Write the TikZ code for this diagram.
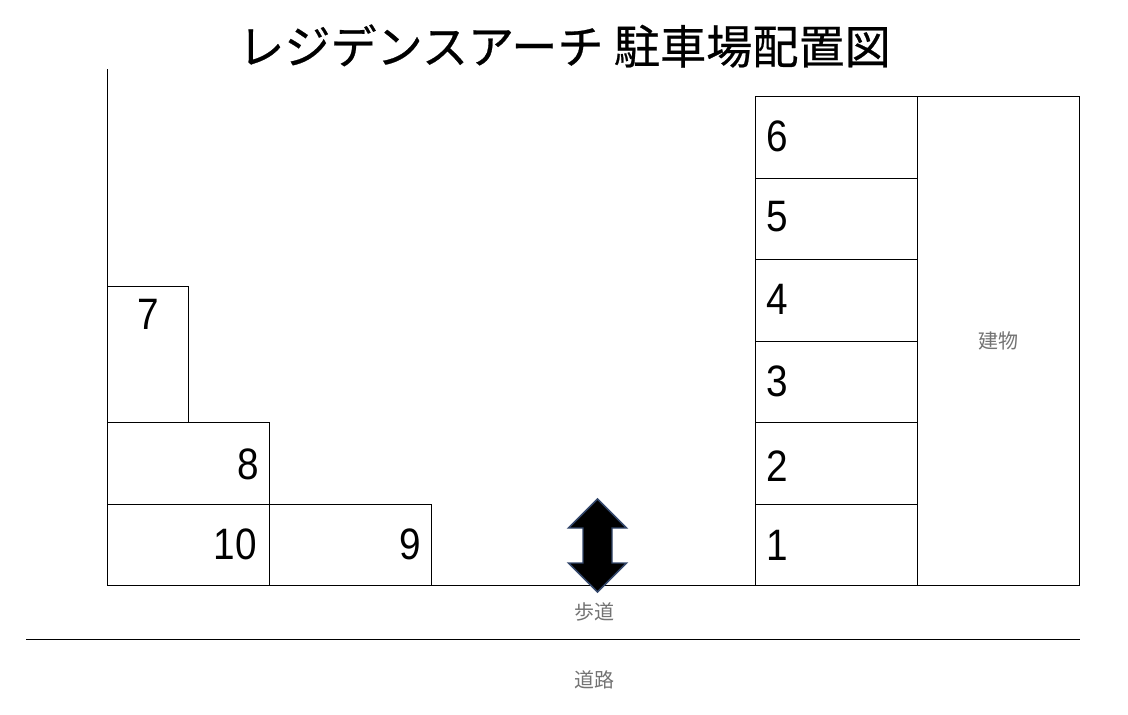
\documentclass[tikz,border=0pt]{standalone}
\usepackage{fontspec}
\setmainfont{Liberation Sans}
\newfontfamily\cjk{Noto Sans CJK JP}
\newfontfamily\cjkt[FakeBold=0.5]{Noto Sans CJK JP}
\definecolor{arrowline}{rgb}{0.2,0.28,0.42}
\tikzset{px/.style={x=0.75pt,y=-0.75pt},
  bay/.style={draw=black,line width=0.6pt,anchor=north west,inner sep=0pt,outer sep=0pt},
  num/.style={font=\fontsize{33}{33}\selectfont},
  lab/.style={font=\cjk\fontsize{15}{15}\selectfont,text=black!55}}
\newcommand{\bay}[5]{\node[bay,minimum width=#4*0.75pt,minimum height=#5*0.75pt] (#1) at (#2,#3) {};}
\newcommand{\slim}[1]{\scalebox{0.88}[1]{#1}}
\begin{document}
\begin{tikzpicture}[px]
    \useasboundingbox (0,0) rectangle (1128,714);
    \node[font=\cjkt\fontsize{34.6}{35}\selectfont] (title) at (564.5,46) {レジデンスアーチ 駐車場配置図};
    \bay{b6}{755}{96.5}{162.5}{82}    \bay{b5}{755}{178.5}{162.5}{81}
    \bay{b4}{755}{259.5}{162.5}{82}    \bay{b3}{755}{341.5}{162.5}{81}
    \bay{b2}{755}{422.5}{162.5}{82}    \bay{b1}{755}{504.5}{162.5}{81}
    \bay{house}{917.5}{96.5}{162}{489}
    \bay{b7}{107.5}{286.5}{81}{136}    \bay{b8}{107.5}{422.5}{162}{82}
    \bay{b10}{107.5}{504.5}{162}{81}    \bay{b9}{269.5}{504.5}{162}{81}
    \node[num] (n6) at (777,136) {\slim{6}};    \node[num] (n5) at (777,217) {\slim{5}};
    \node[num] (n4) at (777,299) {\slim{4}};    \node[num] (n3) at (777,381) {\slim{3}};
    \node[num] (n2) at (777,466) {\slim{2}};    \node[num] (n1) at (777,545) {\slim{1}};
    \node[num] (n7) at (148,314) {\slim{7}};    \node[num] (n8) at (248,464) {\slim{8}};
    \node[num] (n10) at (235.5,544) {\slim{10}};    \node[num] (n9) at (410,544) {\slim{9}};
    \node[lab] (tate) at (998.5,341) {建物};
    \node[lab] (hodo) at (594,612) {歩道};
    \node[lab] (doro) at (594,680) {道路};
    \coordinate (wallT) at (107.5,69);
    \coordinate (roadL) at (26,639.5);
    \coordinate (roadR) at (1080,639.5);
    \draw[line width=0.6pt] (wallT) -- (b7.north west);
    \draw[line width=0.6pt] (b9.south east) -- (b1.south west);
    \draw[line width=0.6pt] (roadL) -- (roadR);
    \draw[fill=black,draw=arrowline,line width=1.1pt] (597.5,499) -- (626.5,528) -- (612,528) -- (612,563) -- (626.5,563) -- (597.5,592) -- (568.5,563) -- (583,563) -- (583,528) -- (568.5,528) -- cycle;
\end{tikzpicture}
\end{document}
